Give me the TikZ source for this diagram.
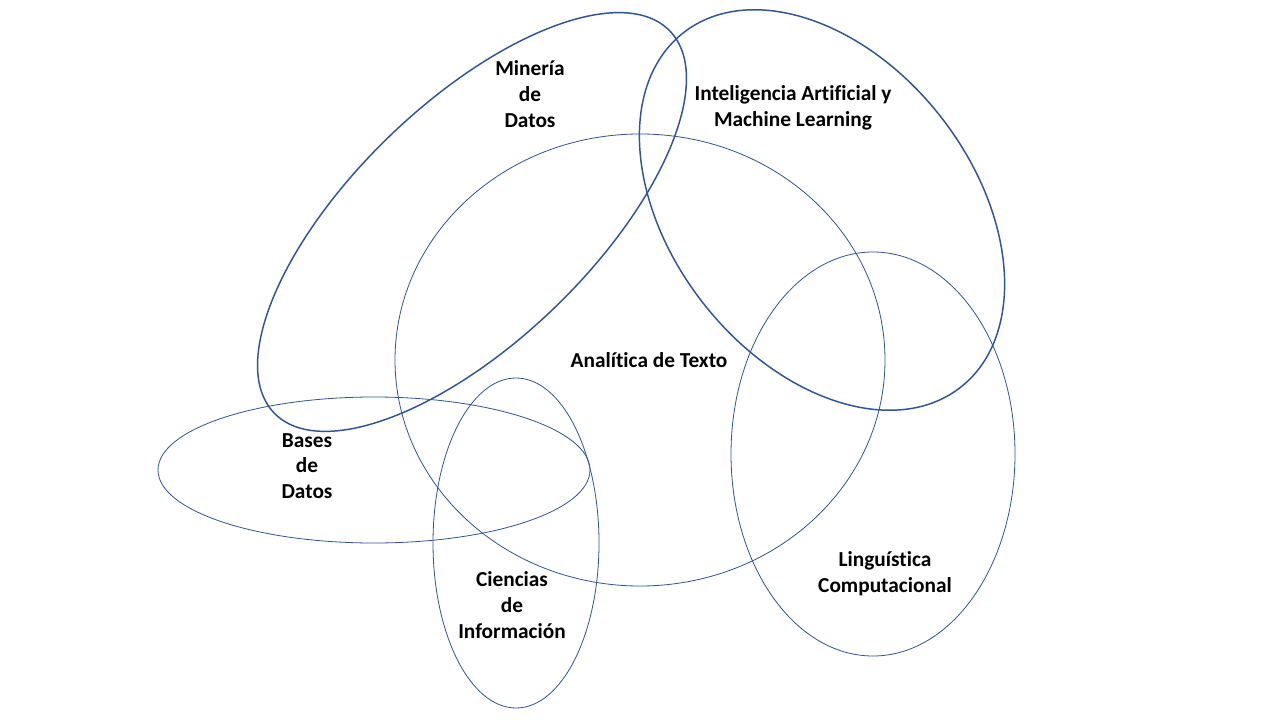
\documentclass[tikz,border=0pt]{standalone}
\usepackage{fontspec}
\setmainfont{Carlito}[Ligatures=NoCommon]
\usepackage{xcolor}
\definecolor{colorRing}{HTML}{2F5597}
\usepackage{tikz}
\usetikzlibrary{positioning}
\tikzset{
  ringThin/.style={draw=colorRing, line width=0.6pt},
  ringThick/.style={draw=colorRing, line width=1.1pt},
  areaLabel/.style={align=center, font=\fontsize{16}{19.3}\selectfont\bfseries, inner sep=0pt}
}

\begin{document}
\begin{tikzpicture}[x=0.75pt, y=-0.75pt]
\useasboundingbox (0,0) rectangle (1280,720);
\fill[white] (0,0) rectangle (1280,720);
% areas
\draw[ringThin] (640,360) ellipse [x radius=245, y radius=226];
\draw[ringThick, rotate around={44:(472,222)}] (472,222) ellipse [x radius=275, y radius=119];
\draw[ringThick, rotate around={-52:(822,210)}] (822,210) ellipse [x radius=225, y radius=151];
\draw[ringThin] (873,454) ellipse [x radius=142, y radius=202];
\draw[ringThin] (374,470) ellipse [x radius=216, y radius=73];
\draw[ringThin] (516,543) ellipse [x radius=83, y radius=165];
% labels
\node[areaLabel] (mineria) at (530,94) {Minería\\de\\Datos};
\node[areaLabel] (ia) at (793,108) {Inteligencia Artificial y\\Machine Learning};
\node[areaLabel] (analitica) at (649,360) {Analítica de Texto};
\node[areaLabel] (linguistica) at (885,574) {Linguística\\Computacional};
\node[areaLabel] (ciencias) at (512,605) {Ciencias\\de\\Información};
\node[areaLabel] (bases) at (307,466) {Bases\\de\\Datos};
\end{tikzpicture}
\end{document}
